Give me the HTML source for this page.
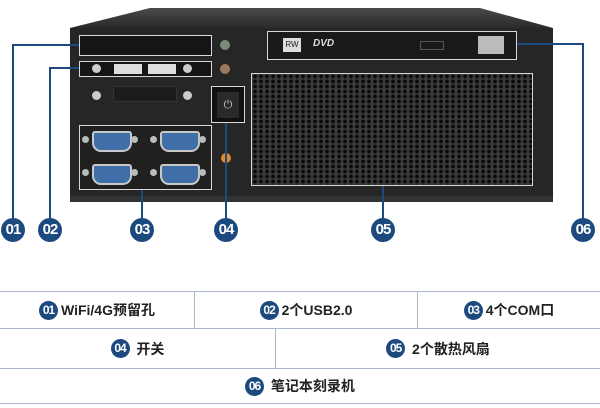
<!DOCTYPE html>
<html><head><meta charset="utf-8"><style>
body{margin:0;width:600px;height:408px;background:#fff;position:relative;overflow:hidden;font-family:"Liberation Sans","Noto Sans CJK SC",sans-serif}
.a{position:absolute;box-sizing:border-box}
.ln{position:absolute;background:#1d4a7e}
.c{position:absolute;width:24px;height:24px;border-radius:50%;background:#1d4a7e;color:#fff;font-weight:bold;font-size:15px;line-height:24px;text-align:center;letter-spacing:-1px}
.wb{border:1.5px solid #d8d8d8}
.tb{position:absolute;border-top:1.5px solid #a9b7c8;box-sizing:border-box;font-size:14px;color:#222;display:flex;align-items:center;justify-content:center;font-weight:bold}
.b{display:inline-block;width:19px;height:19px;border-radius:50%;background:#1d4a7e;color:#fff;font-size:12px;line-height:19px;text-align:center;font-weight:bold;margin-right:3px;letter-spacing:-1px}
.db9{position:absolute;width:36px;height:17px;background:#3f6fa6;border:2px solid #c9c9c9;border-radius:3px 3px 9px 9px}
.scr{position:absolute;width:9px;height:9px;border-radius:50%;background:#ccc}
.ss{position:absolute;width:7px;height:7px;border-radius:50%;background:#bbb}
</style></head><body>
<svg class="a" style="left:0;top:0" width="600" height="210">
<defs><linearGradient id="g" x1="0" y1="0" x2="0" y2="1"><stop offset="0" stop-color="#4a4a4a"/><stop offset="1" stop-color="#2a2a2a"/></linearGradient></defs>
<polygon points="70,28 150,8 480,8 553,28" fill="url(#g)"/>
<rect x="70" y="28" width="483" height="173" fill="#262626"/>
<rect x="70" y="196" width="483" height="6" fill="#333"/>
</svg>
<div class="a wb" style="left:79px;top:35px;width:133px;height:21px;background:#151515"></div>
<div class="a wb" style="left:79px;top:61px;width:133px;height:16px;background:#151515"></div>
<div class="a" style="left:114px;top:64px;width:28px;height:10px;background:#ddd"></div>
<div class="a" style="left:148px;top:64px;width:28px;height:10px;background:#ddd"></div>
<div class="scr" style="left:92px;top:64px"></div><div class="scr" style="left:183px;top:64px"></div>
<div class="scr" style="left:92px;top:91px"></div><div class="scr" style="left:183px;top:91px"></div>
<div class="a" style="left:113px;top:86px;width:64px;height:16px;background:#1c1c1c;border:1px solid #333"></div>
<div class="a" style="left:220px;top:40px;width:10px;height:10px;border-radius:50%;background:#7a8a7a"></div>
<div class="a" style="left:220px;top:64px;width:10px;height:10px;border-radius:50%;background:#9a7a5a"></div>
<div class="a wb" style="left:211px;top:86px;width:34px;height:37px;background:#111"></div>
<div class="a" style="left:217px;top:92px;width:22px;height:26px;background:#2a2a2a;color:#ccc;font-size:11px;text-align:center;line-height:26px">⏻</div>
<div class="a" style="left:221px;top:153px;width:10px;height:10px;border-radius:50%;background:#e08a30"></div>
<div class="a wb" style="left:79px;top:125px;width:133px;height:65px;background:#202020"></div>
<div class="db9" style="left:92px;top:131px"></div><div class="db9" style="left:160px;top:131px"></div>
<div class="db9" style="left:92px;top:164px"></div><div class="db9" style="left:160px;top:164px"></div>
<div class="ss" style="left:82px;top:136px"></div><div class="ss" style="left:131px;top:136px"></div><div class="ss" style="left:150px;top:136px"></div><div class="ss" style="left:199px;top:136px"></div>
<div class="ss" style="left:82px;top:169px"></div><div class="ss" style="left:131px;top:169px"></div><div class="ss" style="left:150px;top:169px"></div><div class="ss" style="left:199px;top:169px"></div>
<div class="a wb" style="left:267px;top:31px;width:250px;height:29px;background:#1a1a1a"></div>
<div class="a" style="left:283px;top:38px;width:18px;height:14px;background:#ddd;font-size:8px;line-height:14px;text-align:center;color:#222">RW</div>
<div class="a" style="left:313px;top:38px;color:#ddd;font-size:10px;font-weight:bold;font-style:italic">DVD</div>
<div class="a" style="left:420px;top:41px;width:24px;height:9px;border:1px solid #555"></div>
<div class="a" style="left:478px;top:36px;width:26px;height:18px;background:#bbb"></div>
<div class="a wb" style="left:251px;top:73px;width:282px;height:113px;background-color:#0c0c0c;background-image:radial-gradient(circle,#0a0a0a 1.6px,#3a3a3a 2.2px);background-size:6px 5px"></div>
<div class="ln" style="left:12px;top:44px;width:2px;height:176px"></div><div class="ln" style="left:12px;top:44px;width:67px;height:2px"></div>
<div class="ln" style="left:49px;top:67px;width:2px;height:153px"></div><div class="ln" style="left:49px;top:67px;width:30px;height:2px"></div>
<div class="ln" style="left:141px;top:190px;width:2px;height:30px"></div>
<div class="ln" style="left:225px;top:123px;width:2px;height:97px"></div>
<div class="ln" style="left:382px;top:186px;width:2px;height:34px"></div>
<div class="ln" style="left:582px;top:43px;width:2px;height:177px"></div><div class="ln" style="left:517px;top:43px;width:67px;height:2px"></div>
<div class="c" style="left:1px;top:218px">01</div>
<div class="c" style="left:38px;top:218px">02</div>
<div class="c" style="left:130px;top:218px">03</div>
<div class="c" style="left:214px;top:218px">04</div>
<div class="c" style="left:371px;top:218px">05</div>
<div class="c" style="left:571px;top:218px">06</div>
<div class="tb" style="left:0;top:291px;width:195px;height:37px;border-right:1.5px solid #a9b7c8"><span class="b">01</span>WiFi/4G预留孔</div>
<div class="tb" style="left:195px;top:291px;width:223px;height:37px;border-right:1.5px solid #a9b7c8"><span class="b">02</span>2个USB2.0</div>
<div class="tb" style="left:418px;top:291px;width:182px;height:37px"><span class="b">03</span>4个COM口</div>
<div class="tb" style="left:0;top:328px;width:276px;height:40px;border-right:1.5px solid #a9b7c8"><span class="b">04</span>&nbsp;开关</div>
<div class="tb" style="left:276px;top:328px;width:324px;height:40px"><span class="b">05</span>&nbsp;2个散热风扇</div>
<div class="tb" style="left:0;top:368px;width:600px;height:36px;border-bottom:1.5px solid #a9b7c8"><span class="b">06</span>&nbsp;笔记本刻录机</div>
</body></html>
